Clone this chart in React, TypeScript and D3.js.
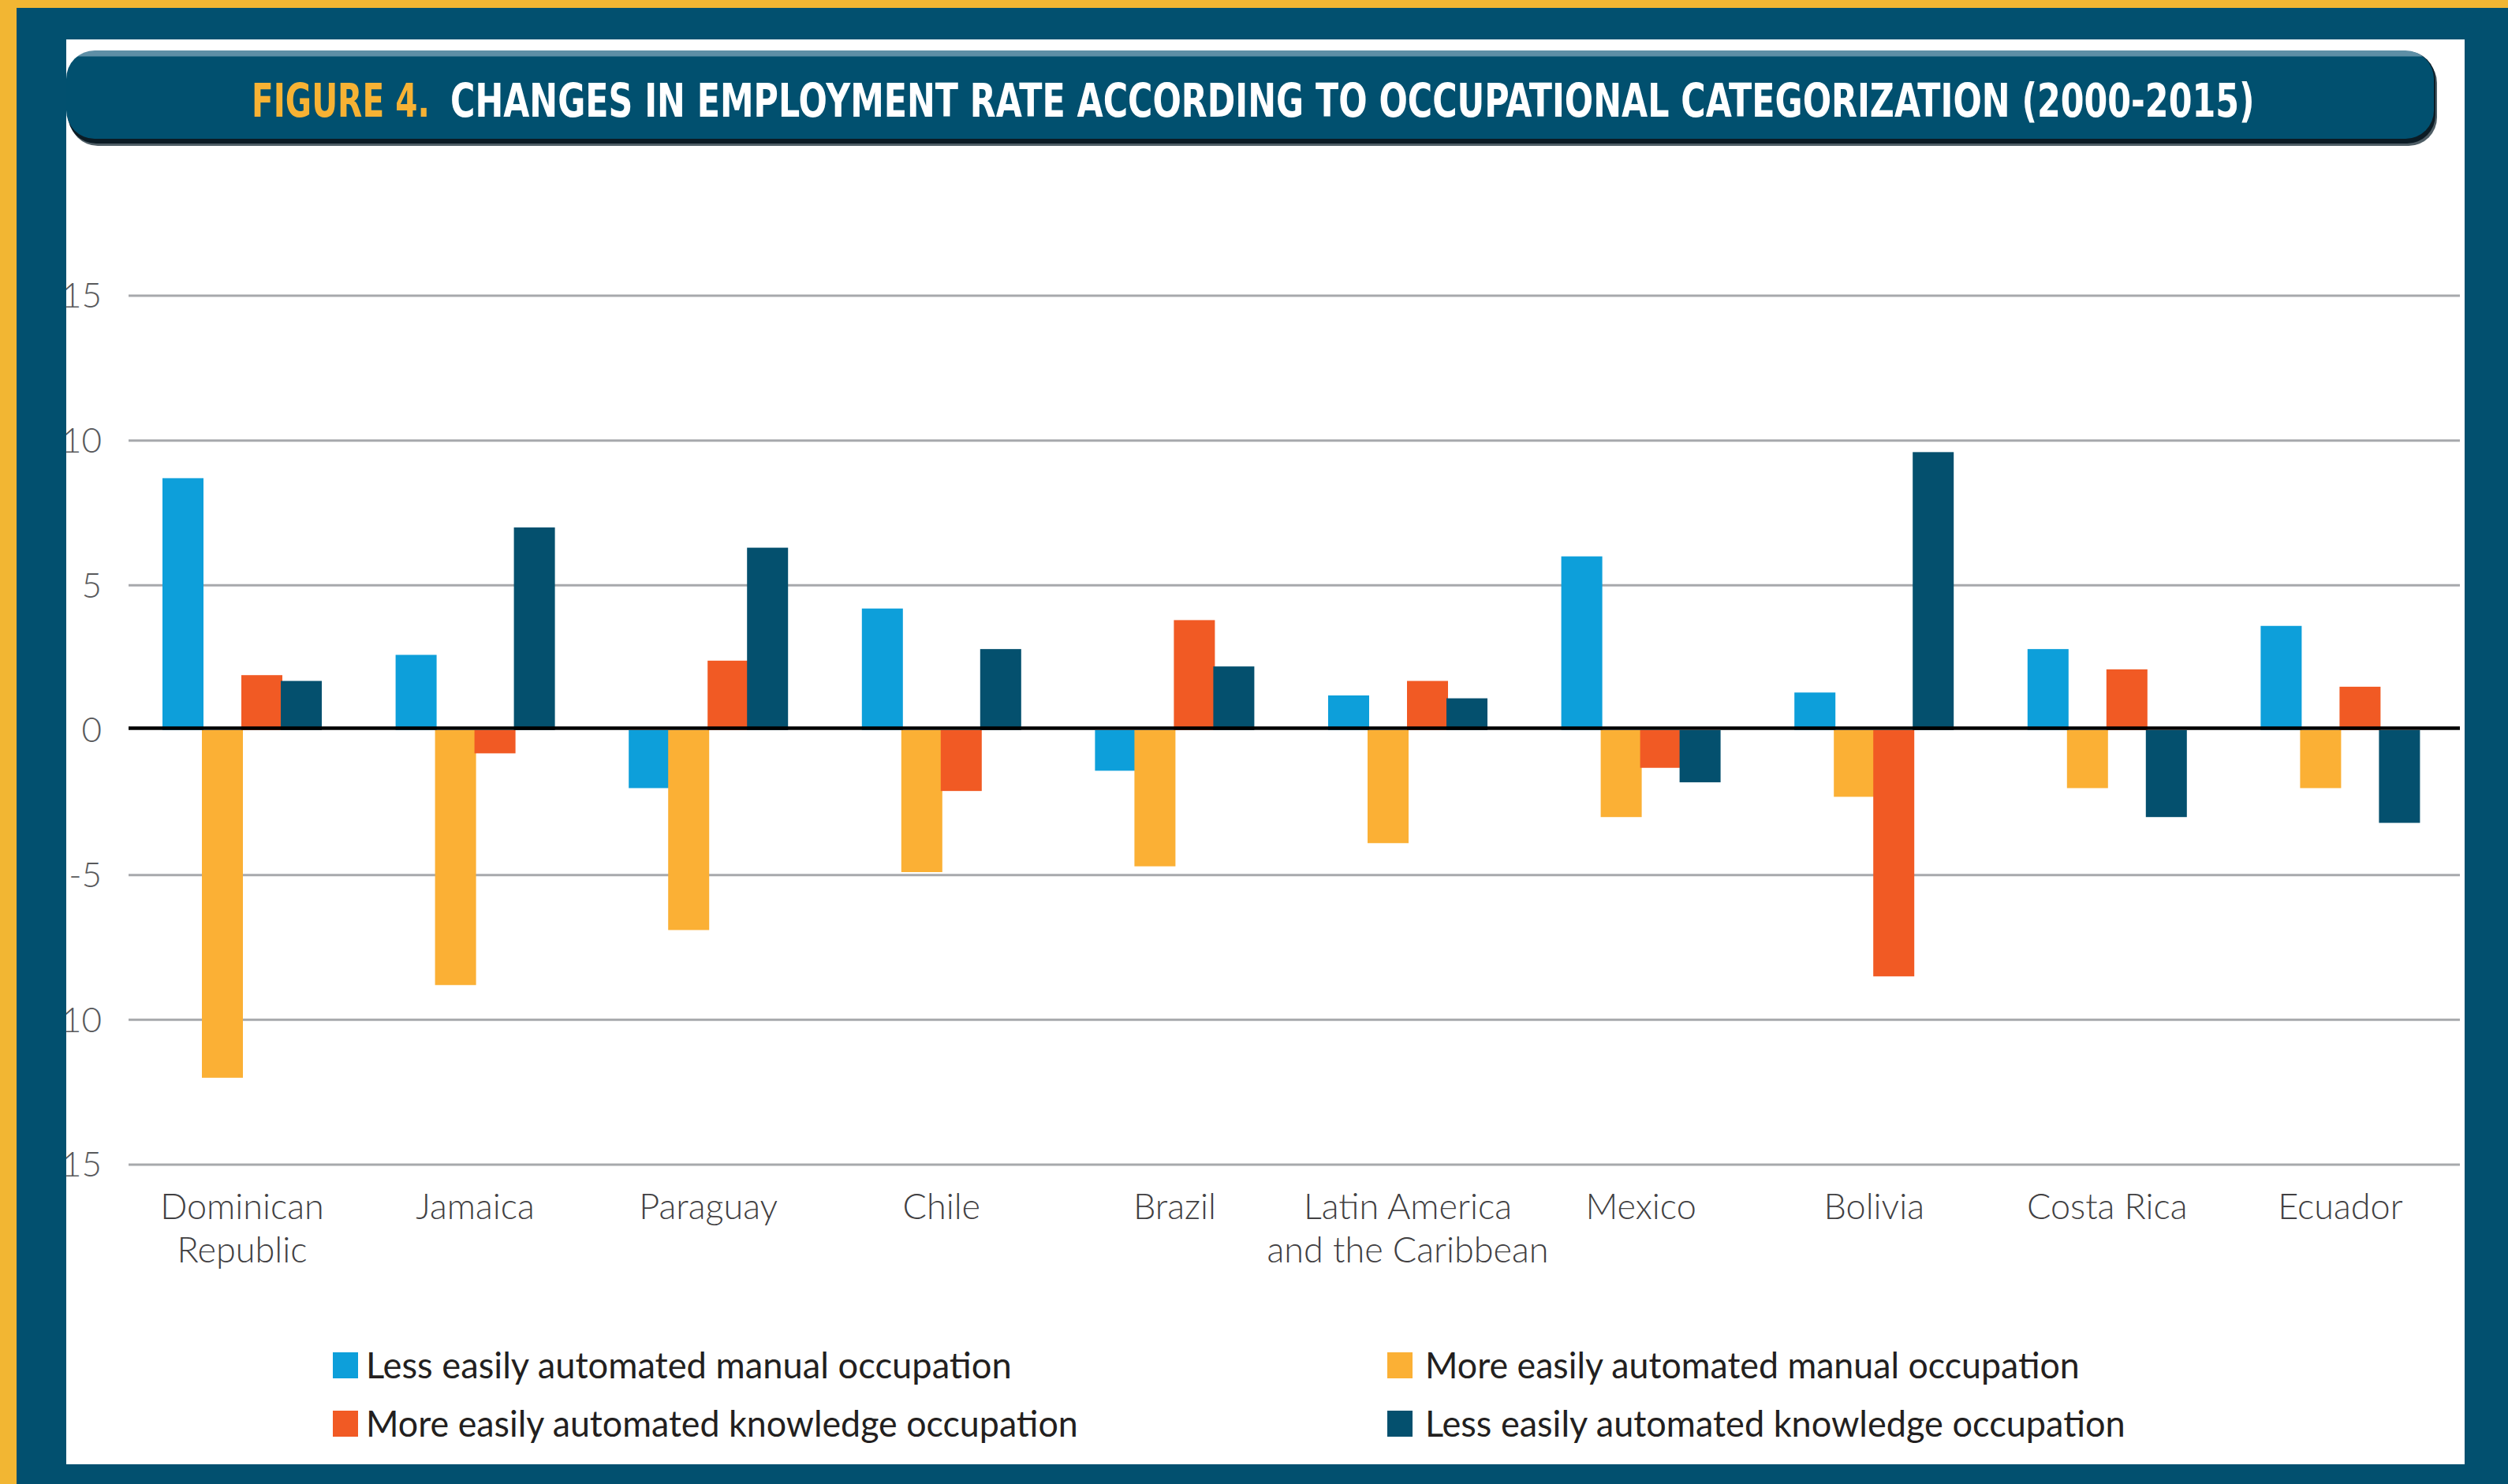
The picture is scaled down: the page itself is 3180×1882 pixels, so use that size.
import React, { useLayoutEffect, useRef, useState } from "react";
import * as d3 from "d3";

const W = 3180;
const H = 1882;

const categories = [
  "Dominican\nRepublic",
  "Jamaica",
  "Paraguay",
  "Chile",
  "Brazil",
  "Latin America\nand the Caribbean",
  "Mexico",
  "Bolivia",
  "Costa Rica",
  "Ecuador",
];

const seriesNames = [
  "Less easily automated manual occupation",
  "More easily automated manual occupation",
  "More easily automated knowledge occupation",
  "Less easily automated knowledge occupation",
];

const lessManual = [8.7, 2.6, -2.0, 4.2, -1.4, 1.2, 6.0, 1.3, 2.8, 3.6];
const moreManual = [-12.0, -8.8, -6.9, -4.9, -4.7, -3.9, -3.0, -2.3, -2.0, -2.0];
const moreKnowledge = [1.9, -0.8, 2.4, -2.1, 3.8, 1.7, -1.3, -8.5, 2.1, 1.5];
const lessKnowledge = [1.7, 7.0, 6.3, 2.8, 2.2, 1.1, -1.8, 9.6, -3.0, -3.2];

const yTicks = [15, 10, 5, 0, -5, -10, -15];

const titleLead = "FIGURE 4.";
const titleMain = "CHANGES IN EMPLOYMENT RATE ACCORDING TO OCCUPATIONAL CATEGORIZATION (2000-2015)";

const seriesValues = [lessManual, moreManual, moreKnowledge, lessKnowledge];
const seriesColors = ["#0D9FDA", "#FBB035", "#F15A24", "#04506E"];

const NAVY = "#02506F";
const GOLD = "#F2B633";

function FitText(props: {
  x: number;
  y: number;
  width: number;
  text: string;
  fill: string;
  fontFamily: string;
  fontSize: number;
  fontWeight?: string | number;
}) {
  const ref = useRef<SVGTextElement>(null);
  const [sx, setSx] = useState(1);
  useLayoutEffect(() => {
    if (ref.current) {
      const len = ref.current.getComputedTextLength();
      if (len > 0) setSx(props.width / len);
    }
  }, [props.text, props.width]);
  return (
    <text
      ref={ref}
      transform={`translate(${props.x},${props.y}) scale(${sx},1)`}
      x={0}
      y={0}
      fill={props.fill}
      fontFamily={props.fontFamily}
      fontSize={props.fontSize}
      fontWeight={props.fontWeight}
    >
      {props.text}
    </text>
  );
}

export default function App() {
  const x0 = d3.scaleBand<string>().domain(categories).range([159.2, 3115.2]).paddingInner(0).paddingOuter(0);
  const x1 = d3
    .scaleBand<string>()
    .domain(seriesNames)
    .range([0, x0.bandwidth()])
    .paddingInner(0)
    .paddingOuter(0.956);
  const y = d3.scaleLinear().domain([-15, 15]).range([1477, 375]);

  const legendItems = [
    { s: 0, x: 422, yb: 1748, tx: 464, len: 819 },
    { s: 2, x: 422, yb: 1822, tx: 464, len: 903 },
    { s: 1, x: 1759, yb: 1748, tx: 1807, len: 830 },
    { s: 3, x: 1759, yb: 1822, tx: 1807, len: 888 },
  ];

  const titleFont = "'DejaVu Sans Condensed', 'DejaVu Sans', sans-serif";
  const bodyFont = "Lato, 'Open Sans', sans-serif";

  return (
    <svg
      width={W}
      height={H}
      viewBox={`0 0 ${W} ${H}`}
      style={{ position: "absolute", left: 0, top: 0, display: "block" }}
    >
      <defs>
        <clipPath id="panel">
          <rect x={84} y={50} width={3125 - 84} height={1857 - 50} />
        </clipPath>
        <linearGradient id="titleGrad" x1="0" y1="0" x2="0" y2="1">
          <stop offset="0" stopColor="#5E8FA6" />
          <stop offset="0.06" stopColor="#5E8FA6" />
          <stop offset="0.075" stopColor="#01506F" />
          <stop offset="1" stopColor="#01506F" />
        </linearGradient>
      </defs>

      {/* frame */}
      <rect x={0} y={0} width={W} height={H} fill={NAVY} />
      <rect x={0} y={0} width={W} height={10} fill={GOLD} />
      <rect x={0} y={0} width={21} height={H} fill={GOLD} />
      <rect x={84} y={50} width={3125 - 84} height={1857 - 50} fill="#FFFFFF" />

      <g clipPath="url(#panel)">
        {/* title bar */}
        <rect x={88} y={69} width={3090 - 88} height={185 - 69} rx={36} fill="#4E5D65" />
        <rect x={86} y={65} width={3088 - 86} height={182 - 65} rx={36} fill="#0B1B24" />
        <rect x={84} y={64} width={3086 - 84} height={176 - 64} rx={36} fill="url(#titleGrad)" />

        {/* gridlines */}
        {yTicks
          .filter((t) => t !== 0)
          .map((t) => (
            <line key={"g" + t} x1={163} x2={3119} y1={y(t)} y2={y(t)} stroke="#A7A9AC" strokeWidth={3} />
          ))}

        {/* y tick labels */}
        {yTicks.map((t) => (
          <text
            key={"t" + t}
            x={129}
            y={y(t)}
            dy="0.35em"
            textAnchor="end"
            fill="#58595B"
            fontFamily={bodyFont}
            fontWeight={300}
            fontSize={44}
          >
            {String(t)}
          </text>
        ))}

        {/* bars */}
        {categories.map((c, i) => (
          <g key={c} transform={`translate(${x0(c)},0)`}>
            {seriesNames.map((s, k) => {
              const v = seriesValues[k][i];
              const y0 = y(0);
              const yv = y(v);
              return (
                <rect
                  key={s}
                  x={(x1(s) as number) - 1}
                  y={Math.min(y0, yv)}
                  width={x1.bandwidth() + 2}
                  height={Math.abs(yv - y0)}
                  fill={seriesColors[k]}
                />
              );
            })}
          </g>
        ))}

        {/* zero line */}
        <line x1={163} x2={3119} y1={y(0) - 2.5} y2={y(0) - 2.5} stroke="#000000" strokeWidth={4.5} />

        {/* category labels */}
        {categories.map((c) => {
          const cx = (x0(c) as number) + x0.bandwidth() / 2;
          const lines = c.split("\n");
          return (
            <text
              key={"l" + c}
              x={cx}
              y={1546}
              textAnchor="middle"
              fill="#414042"
              fontFamily={bodyFont}
              fontWeight={300}
              fontSize={45}
            >
              {lines.map((ln, j) => (
                <tspan key={j} x={cx} dy={j === 0 ? 0 : 55}>
                  {ln}
                </tspan>
              ))}
            </text>
          );
        })}

        {/* legend */}
        {legendItems.map((it) => (
          <g key={"lg" + it.s}>
            <rect x={it.x} y={it.yb - 33} width={32} height={33} fill={seriesColors[it.s]} />
            <FitText
              x={it.tx}
              y={it.yb}
              width={it.len}
              text={seriesNames[it.s]}
              fill="#231F20"
              fontFamily={bodyFont}
              fontSize={46}
              fontWeight={400}
            />
          </g>
        ))}
      </g>

      {/* title text */}
      <FitText
        x={319}
        y={148}
        width={226}
        text={titleLead}
        fill="#F7B234"
        fontFamily={titleFont}
        fontSize={59}
        fontWeight="bold"
      />
      <FitText
        x={571}
        y={148}
        width={2288}
        text={titleMain}
        fill="#FFFFFF"
        fontFamily={titleFont}
        fontSize={59}
        fontWeight="bold"
      />
    </svg>
  );
}
